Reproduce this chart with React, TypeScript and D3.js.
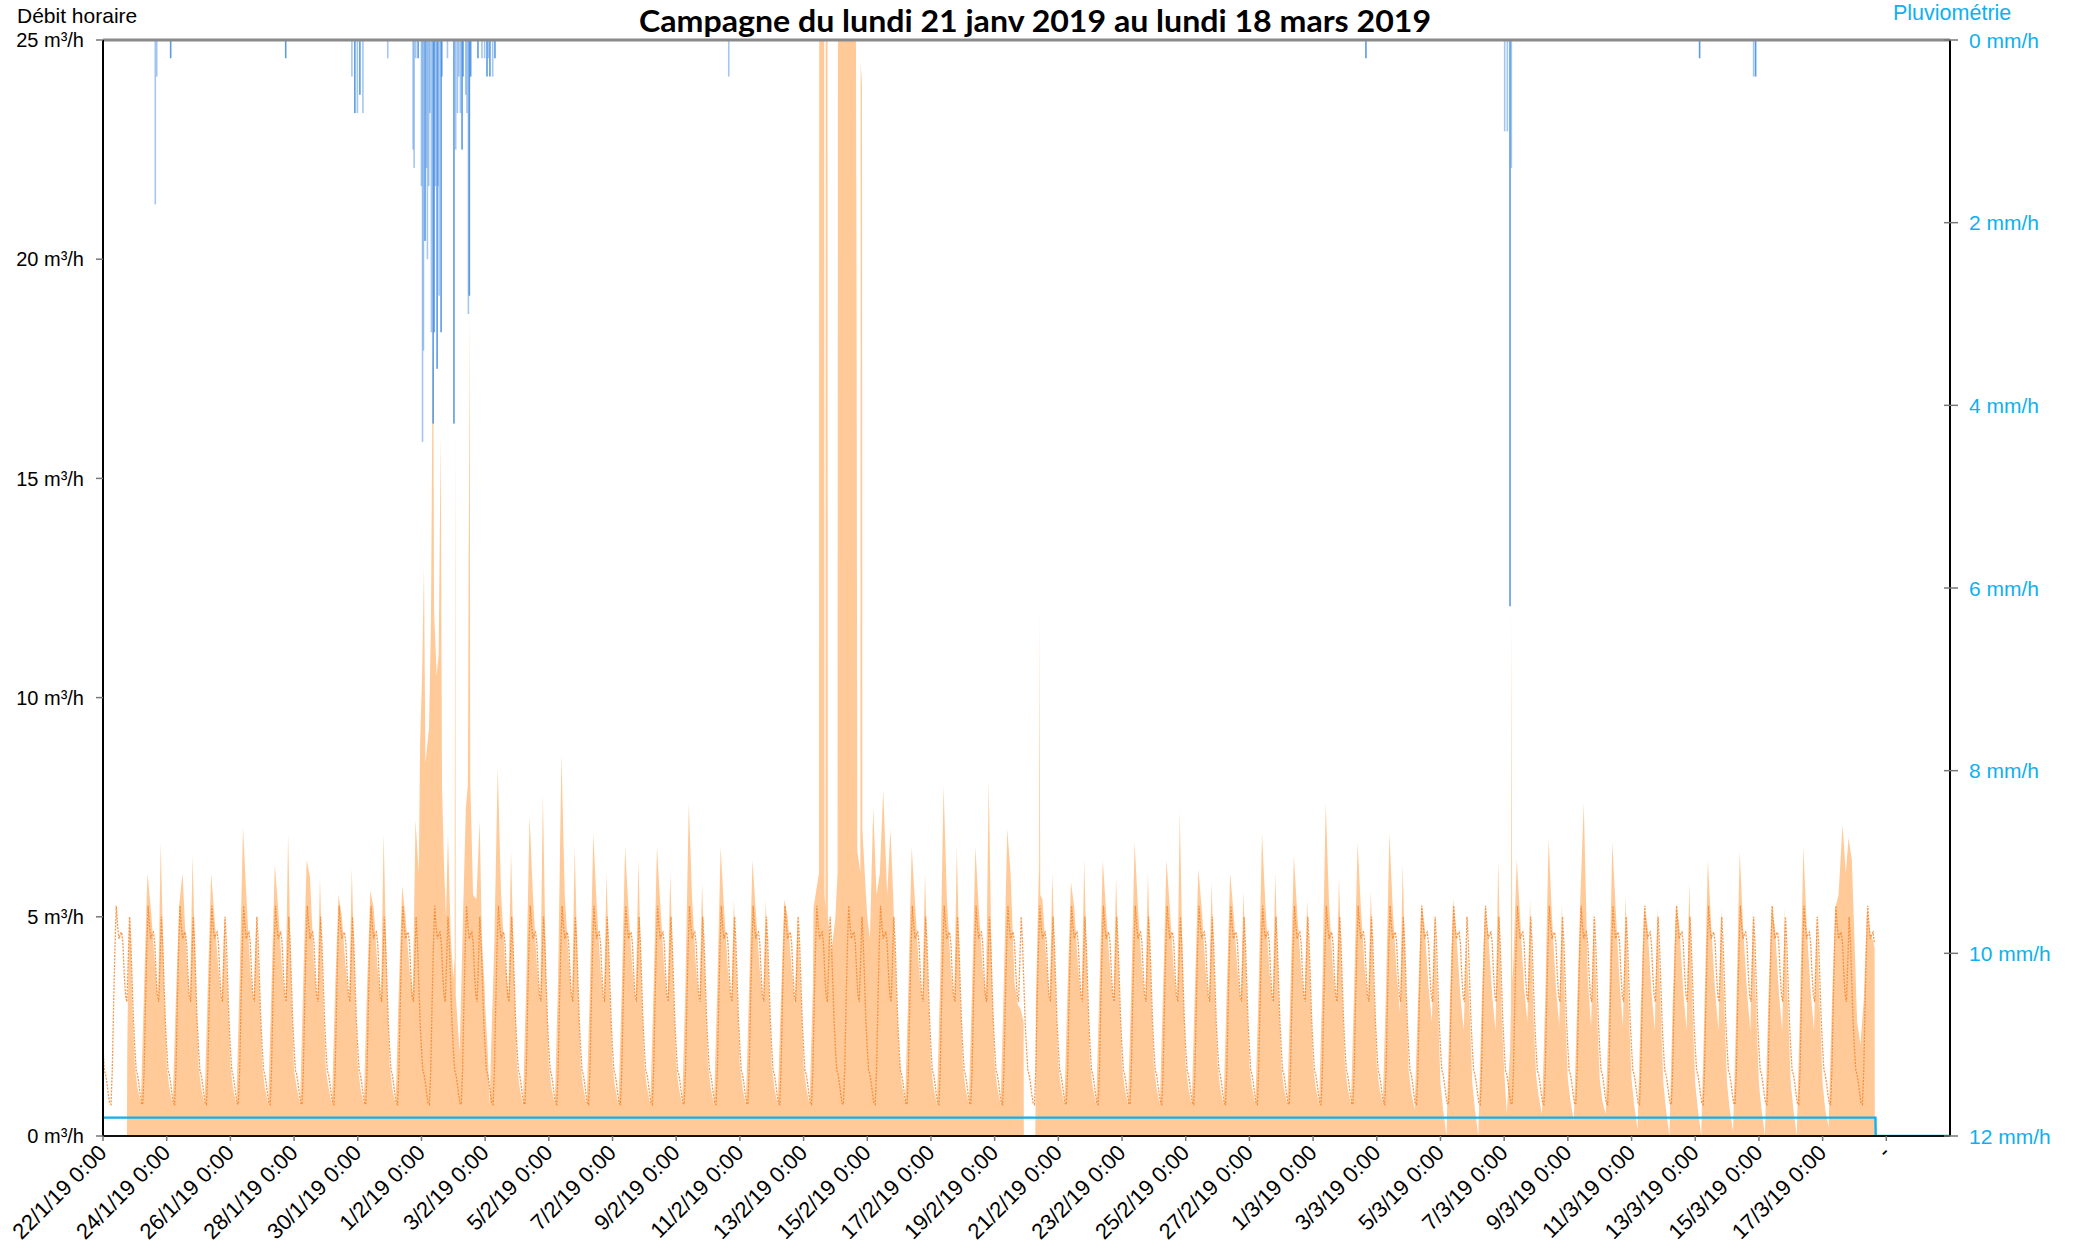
import React from "react";
import * as d3 from "d3";

// ---------- DATA ----------
const START = new Date(2019, 0, 22, 0, 0, 0); // 22/1/19 0:00
const SPAN_HOURS = 58 * 24;

const titleText = "Campagne du lundi 21 janv 2019 au lundi 18 mars 2019";
const leftAxisTitle = "Débit horaire";
const rightAxisTitle = "Pluviométrie";

const xTickLabels = [
  "22/1/19 0:00", "24/1/19 0:00", "26/1/19 0:00", "28/1/19 0:00", "30/1/19 0:00",
  "1/2/19 0:00", "3/2/19 0:00", "5/2/19 0:00", "7/2/19 0:00", "9/2/19 0:00",
  "11/2/19 0:00", "13/2/19 0:00", "15/2/19 0:00", "17/2/19 0:00", "19/2/19 0:00",
  "21/2/19 0:00", "23/2/19 0:00", "25/2/19 0:00", "27/2/19 0:00", "1/3/19 0:00",
  "3/3/19 0:00", "5/3/19 0:00", "7/3/19 0:00", "9/3/19 0:00", "11/3/19 0:00",
  "13/3/19 0:00", "15/3/19 0:00", "17/3/19 0:00", "-",
];
const xTickStepHours = 48;
const flowTicks = [0, 5, 10, 15, 20, 25];
const rainTicks = [0, 2, 4, 6, 8, 10, 12];

// hour-of-day of each value in a measured day row
const slotHours = [0, 2, 4.5, 7, 9.5, 12, 15, 17.5, 19.5, 22];

// measured hourly flow (m3/h), one row per day from 22/1 (null = no reading)
const measuredDays: ((number | null)[] | null)[] = [
  [null, null, null, null, null, null, null, null, 4.6, 3.0], // 22/1
  [1.6, 1.1, 0.75, 3.4, 6.0, 5.2, 4.0, 3.0, 6.7, 3.4], // 23/1
  [1.6, 1.1, 0.72, 3.2, 5.3, 6.0, 4.0, 3.0, 6.4, 3.4],
  [1.6, 1.1, 0.72, 3.4, 6.0, 5.0, 3.8, 3.0, 5.0, 3.2],
  [1.6, 1.1, 0.72, 3.6, 7.05, 5.5, 3.8, 3.0, 5.0, 3.2], // 26/1
  [1.6, 1.1, 0.72, 3.4, 6.2, 5.2, 3.8, 3.0, 6.9, 3.2],
  [1.5, 1.1, 0.72, 3.6, 6.3, 5.9, 3.9, 3.0, 5.9, 3.0],
  [1.5, 1.1, 0.72, 3.4, 5.5, 5.0, 3.8, 3.0, 6.1, 3.2],
  [1.6, 1.1, 0.72, 3.4, 5.6, 5.2, 3.8, 3.1, 6.9, 3.4], // 30/1
  [1.6, 1.1, 0.72, 3.4, 5.7, 5.0, 3.8, 3.2, 7.2, 6.0], // 31/1
  null, // 1/2 (storm, see measuredExtra)
  null, // 2/2
  [3.0, 1.9, 2.0, 4.5, 8.4, 5.5, 4.0, 3.2, 6.5, 3.4], // 3/2
  [1.6, 1.1, 0.72, 3.5, 7.3, 5.5, 3.9, 3.0, 7.8, 3.4],
  [1.6, 1.1, 0.72, 3.6, 8.7, 5.5, 4.0, 3.0, 6.6, 3.4], // 5/2
  [1.6, 1.1, 0.72, 3.4, 6.9, 5.3, 3.8, 3.0, 6.0, 3.2],
  [1.6, 1.1, 0.72, 3.4, 6.6, 5.2, 3.8, 3.0, 6.3, 3.2],
  [1.6, 1.1, 0.72, 3.4, 6.6, 5.3, 3.8, 3.0, 6.0, 3.2],
  [1.6, 1.1, 0.72, 3.5, 7.6, 5.4, 3.8, 3.0, 5.8, 3.2], // 9/2
  [1.6, 1.1, 0.72, 3.4, 6.6, 5.2, 3.8, 3.0, 5.4, 3.2],
  [1.6, 1.1, 0.72, 3.4, 6.3, 5.1, 3.8, 3.0, 5.4, 3.2],
  [1.6, 1.1, 0.72, 3.2, 5.4, 5.0, 3.8, 3.0, 5.1, 3.2], // 12/2
  [1.6, 1.1, 0.72, 3.4, null, null, null, null, null, null], // 13/2
  null, // 14/2
  [5.0, 4.5, 7.5, 5.5, 6.0, 7.9, 5.5, 7.0, 5.5, 3.2], // 15/2
  [1.8, 1.2, 0.75, 3.4, 6.6, 5.3, 3.8, 3.0, 6.0, 3.2],
  [1.6, 1.1, 0.72, 3.6, 8.0, 5.4, 3.8, 3.0, 6.6, 3.2], // 17/2
  [1.6, 1.1, 0.72, 3.4, 6.6, 5.2, 3.8, 3.2, 8.1, 3.4],
  [1.6, 1.1, 0.72, 3.6, 7.0, 6.0, 3.5, 3.0, 2.9, 0], // 19/2
  [0, 0, 0, 3.0, 6.0, 5.4, 4.0, 3.0, 6.0, 3.2], // 20/2
  [1.6, 1.1, 0.72, 3.4, 5.8, 5.2, 3.8, 3.0, 6.3, 3.2],
  [1.6, 1.1, 0.72, 3.4, 6.3, 5.1, 3.8, 3.0, 5.9, 3.2],
  [1.6, 1.1, 0.72, 3.4, 6.7, 5.2, 3.8, 3.0, 6.0, 3.2], // 23/2
  [1.6, 1.1, 0.72, 3.4, 6.3, 5.2, 3.8, 3.0, 7.4, 3.4],
  [1.6, 1.1, 0.72, 3.4, 6.1, 5.2, 3.8, 3.0, 5.8, 3.2],
  [1.6, 1.1, 0.72, 3.4, 6.0, 5.1, 3.8, 3.0, 5.6, 3.2],
  [1.6, 1.1, 0.72, 3.4, 6.9, 5.3, 3.8, 3.0, 6.0, 3.2], // 27/2
  [1.6, 1.1, 0.72, 3.4, 6.4, 5.1, 3.8, 3.0, 5.4, 3.2],
  [1.6, 1.1, 0.72, 3.5, 7.6, 5.3, 3.8, 3.0, 5.9, 3.2], // 1/3
  [1.6, 1.1, 0.72, 3.4, 6.7, 5.2, 3.8, 3.0, 5.6, 3.2],
  [1.6, 1.1, 0.72, 3.4, 6.9, 5.2, 3.7, 2.8, 6.2, 3.2], // 3/3
  [1.5, 1.0, 0.6, 3.0, 5.3, 4.8, 3.4, 2.6, 5.0, 3.0],
  [1.2, 0.6, 0, 3.0, 5.4, 4.6, 3.2, 2.4, 4.5, 2.8], // 5/3
  [1.2, 0.6, 0, 3.0, 5.2, 4.6, 3.2, 2.4, 6.3, 2.8],
  [1.5, 0.5, 2.0, 4.0, 6.3, 5.0, 3.4, 2.6, 5.4, 2.8], // 7/3
  [1.4, 0.9, 0.5, 3.2, 6.8, 5.0, 3.4, 2.5, 5.3, 2.8],
  [1.3, 0.8, 0.35, 3.0, 5.5, 7.6, 3.6, 2.5, 5.1, 2.8], // 9/3
  [1.3, 0.8, 0.5, 3.0, 6.7, 5.2, 3.5, 2.5, 5.5, 2.8],
  [1.3, 0.7, 0.15, 3.0, 5.2, 4.8, 3.3, 2.4, 5.2, 2.8], // 11/3
  [1.2, 0.6, 0, 3.0, 5.3, 4.8, 3.3, 2.4, 5.8, 2.8],
  [1.2, 0.6, 0, 3.0, 6.3, 4.8, 3.3, 2.4, 5.2, 2.8], // 13/3
  [1.2, 0.6, 0.1, 3.0, 6.5, 4.8, 3.3, 2.4, 5.1, 2.8],
  [1.2, 0.6, 0, 3.0, 5.2, 4.8, 3.3, 2.4, 5.2, 2.8], // 15/3
  [1.2, 0.6, 0, 3.0, 6.6, 4.8, 3.3, 2.4, 5.0, 2.8],
  [1.2, 0.6, 0.2, 3.0, 5.2, 5.5, 7.1, 6.0, 6.8, 6.3], // 17/3
  [4.5, 2.6, 2.1, 3.1, 5.2, 4.6, null, null, null, null], // 18/3
];

// extra measured readings [hours since 22/1 0:00, m3/h] (storms, spikes, gaps)
const measuredExtra: [number, number][] = [
  [18, 0], [18.3, 2.0], [20.5, 5.0],
  [239.0, 9.0], [240.5, 10.5], [241.9, 13.0], [243.0, 8.5], [245.7, 9.3],
  [247.2, 11.8], [248.4, 17.5], [248.9, 18.0], [249.5, 12.0], [251.5, 10.5], [253.0, 11.0],
  [254.5, 16.0], [255.5, 8.0], [257.0, 6.2], [258.5, 5.0], [260.0, 6.9],
  [262.0, 4.6], [264.0, 3.6], [265.0, 4.0], [265.4, 16.3], [265.9, 3.2],
  [268.8, 1.9], [271.3, 5.0], [273.5, 7.5], [275.0, 8.0], [276.3, 18.9],
  [276.8, 8.1], [278.9, 5.5], [281.4, 5.4], [283.9, 7.2], [285.5, 4.5],
  [287.6, 3.4], [291.4, 0.7],
  [535.5, 5.2], [539.6, 6.0], [539.8, 30], [543.5, 30], [543.8, 5.5],
  [544.5, 5.2], [544.7, 30], [546.0, 30], [546.3, 5.0], [549.0, 4.2],
  [552.0, 5.0], [553.6, 6.0], [553.9, 30], [567.3, 30], [568.0, 18],
  [568.5, 6.5], [570.8, 6.0], [571.0, 24.5], [572.0, 24.0], [572.3, 7.0],
  [575.0, 5.5],
  [693.8, 2.6], [702.6, 0], [702.8, 0.6], [705.3, 6.0], [705.8, 12.0], [706.4, 5.5],
  [1061.1, 3.0], [1061.6, 12.0], [1062.1, 3.5],
  [1333.8, 4.47], [1335.2, 4.3], [1335.3, 0],
];

// reference daily profile (m3/h) for hours 0..23, dotted line
const referenceProfile = [
  2.0, 1.5, 1.4, 1.2, 0.95, 0.75, 0.72, 1.5, 3.0, 4.3, 5.25, 4.8,
  4.5, 4.6, 4.65, 4.4, 3.7, 3.2, 3.06, 4.0, 5.0, 4.4, 3.5, 2.6,
];
const referenceEndHour = 1335;

// cyan series [hours, m3/h]
const baseFlow: [number, number][] = [[0, 0.42], [1335.8, 0.42], [1336, 0], [1392, 0]];

// rainfall (mm/h) [hours since 22/1 0:00, mm/h]
const rainGaugeA: [number, number][] = [
  [51.0, 0.2], [137.7, 0.2], [189.8, 0.8], [193.6, 0.6], [237.5, 0.2], [242.7, 2.2],
  [248.8, 4.2], [249.5, 3.2], [251.8, 3.6], [254.8, 3.2], [255.3, 0.4], [264.5, 4.2],
  [270.6, 1.2], [271.3, 0.4], [276.1, 2.8], [277.1, 0.4], [282.6, 0.2], [289.4, 0.4],
  [291.6, 0.4], [295.4, 0.2], [951.8, 0.2], [1060.4, 6.2], [1203.3, 0.2], [1245.5, 0.4],
];
const rainGaugeB: [number, number][] = [
  [39.4, 1.8], [40.5, 0.4], [187.6, 0.4], [191.7, 0.8], [195.9, 0.8], [214.6, 0.2],
  [233.7, 1.2], [234.5, 1.4], [235.7, 0.2], [240.0, 1.6], [240.8, 4.4], [241.5, 3.4],
  [243.8, 1.4], [244.5, 2.4], [245.5, 1.6], [246.3, 0.8], [247.5, 3.2], [250.5, 1.6],
  [252.5, 1.6], [253.3, 2.8], [259.6, 0.2], [265.8, 1.2], [267.1, 0.8], [268.1, 0.4],
  [269.4, 0.8], [273.4, 0.6], [274.3, 0.8], [275.4, 3.0], [285.6, 0.2], [287.6, 0.2],
  [290.4, 0.2], [293.7, 0.4], [471.6, 0.4], [1056.4, 1.0], [1058.4, 1.0], [1061.4, 1.4],
  [1244.0, 0.4],
];

// ---------- LAYOUT ----------
const W = 2076;
const H = 1250;
const M = { left: 103, right: 1950, top: 40, bottom: 1136 };
const FONT = "'Liberation Sans', Arial, sans-serif";
const CYAN = "#0FB0EE";

const at = (h: number) => new Date(START.getTime() + h * 3600e3);

export default function App() {
  const x = d3.scaleTime().domain([START, at(SPAN_HOURS)]).range([M.left, M.right]);
  const y = d3.scaleLinear().domain([0, 25]).range([M.bottom, M.top]);
  const yr = d3.scaleLinear().domain([0, 12]).range([M.top, M.bottom]);

  const pts: [number, number][] = [];
  measuredDays.forEach((row, d) => {
    if (!row) return;
    row.forEach((v, i) => {
      if (v != null) pts.push([d * 24 + slotHours[i], v]);
    });
  });
  measuredExtra.forEach((p) => pts.push(p));
  pts.sort((a, b) => a[0] - b[0]);

  const area = d3
    .area<[number, number]>()
    .x((p) => x(at(p[0])))
    .y0(y(0))
    .y1((p) => y(Math.min(p[1], 27)))
    .curve(d3.curveLinear);

  const refPts: [number, number][] = [];
  for (let h = 0; h <= referenceEndHour; h++) refPts.push([h, referenceProfile[h % 24]]);
  const line = d3
    .line<[number, number]>()
    .x((p) => x(at(p[0])))
    .y((p) => y(p[1]));

  const hourW = x(at(1)) - x(at(0));
  const barW = Math.max(1.6, hourW);

  const xTicks = xTickLabels.map((lab, i) => ({ lab, d: at(i * xTickStepHours) }));

  return (
    <svg
      width={W}
      height={H}
      viewBox={`0 0 ${W} ${H}`}
      style={{ position: "absolute", left: 0, top: 0, background: "#fff" }}
      fontFamily={FONT}
    >
      <defs>
        <clipPath id="plot">
          <rect x={M.left} y={M.top} width={M.right - M.left} height={M.bottom - M.top} />
        </clipPath>
      </defs>
      <rect x={0} y={0} width={W} height={H} fill="#fff" />

      <g clipPath="url(#plot)">
        <path d={area(pts) || ""} fill="#FFCA98" />
        <path
          d={line(refPts) || ""}
          fill="none"
          stroke="#F5852C"
          strokeWidth={1.3}
          strokeDasharray="2 1.3"
          opacity={0.85}
        />
        <path d={line(baseFlow) || ""} fill="none" stroke={CYAN} strokeWidth={2.4} />
        {rainGaugeB.map((r, i) => (
          <rect
            key={"b" + i}
            x={x(at(r[0])) - barW / 2}
            y={yr(0)}
            width={barW}
            height={yr(r[1]) - yr(0)}
            fill="#4A90E2"
            opacity={0.5}
          />
        ))}
        {rainGaugeA.map((r, i) => (
          <rect
            key={"a" + i}
            x={x(at(r[0])) - barW / 2}
            y={yr(0)}
            width={barW}
            height={yr(r[1]) - yr(0)}
            fill="#4A90E2"
            opacity={0.9}
          />
        ))}
      </g>

      {/* frame / axes */}
      <line x1={M.left} x2={M.right} y1={M.top} y2={M.top} stroke="#8a8a8a" strokeWidth={3} />
      <line x1={M.left} x2={M.left} y1={M.top} y2={M.bottom} stroke="#000" strokeWidth={2} />
      <line x1={M.right} x2={M.right} y1={M.top} y2={M.bottom} stroke="#000" strokeWidth={2} />
      <line x1={M.left} x2={M.right} y1={M.bottom} y2={M.bottom} stroke="#111" strokeWidth={2} />

      {/* left axis */}
      {flowTicks.map((v) => (
        <g key={"f" + v}>
          <line x1={M.left - 7} x2={M.left} y1={y(v)} y2={y(v)} stroke="#777" strokeWidth={1.5} />
          <text x={M.left - 19} y={y(v)} dy="0.36em" textAnchor="end" fontSize={20} fill="#000">
            {`${v} m³/h`}
          </text>
        </g>
      ))}

      {/* right axis */}
      {rainTicks.map((v) => (
        <g key={"r" + v}>
          <line x1={M.right - 6} x2={M.right + 8} y1={yr(v)} y2={yr(v)} stroke="#777" strokeWidth={1.5} />
          <text x={M.right + 19} y={yr(v)} dy="0.36em" textAnchor="start" fontSize={21} fill={CYAN}>
            {`${v} mm/h`}
          </text>
        </g>
      ))}

      {/* x axis */}
      {xTicks.map((t, i) => {
        const px = x(t.d);
        return (
          <g key={"x" + i}>
            <line x1={px} x2={px} y1={M.bottom} y2={M.bottom + 5} stroke="#777" strokeWidth={1.5} />
            <text
              transform={`translate(${px + 5},${M.bottom + 18}) rotate(-45)`}
              textAnchor="end"
              fontSize={22}
              fill="#000"
            >
              {t.lab}
            </text>
          </g>
        );
      })}

      {/* titles */}
      <text x={17} y={23} fontSize={21} fill="#000">
        {leftAxisTitle}
      </text>
      <text x={1893} y={20} fontSize={21.5} fill={CYAN}>
        {rightAxisTitle}
      </text>
      <text
        x={1035}
        y={32}
        textAnchor="middle"
        fontSize={30}
        fontWeight="bold"
        fontFamily="Lato, 'Open Sans', sans-serif"
        textLength={792}
        lengthAdjust="spacingAndGlyphs"
        fill="#000"
      >
        {titleText}
      </text>
    </svg>
  );
}
